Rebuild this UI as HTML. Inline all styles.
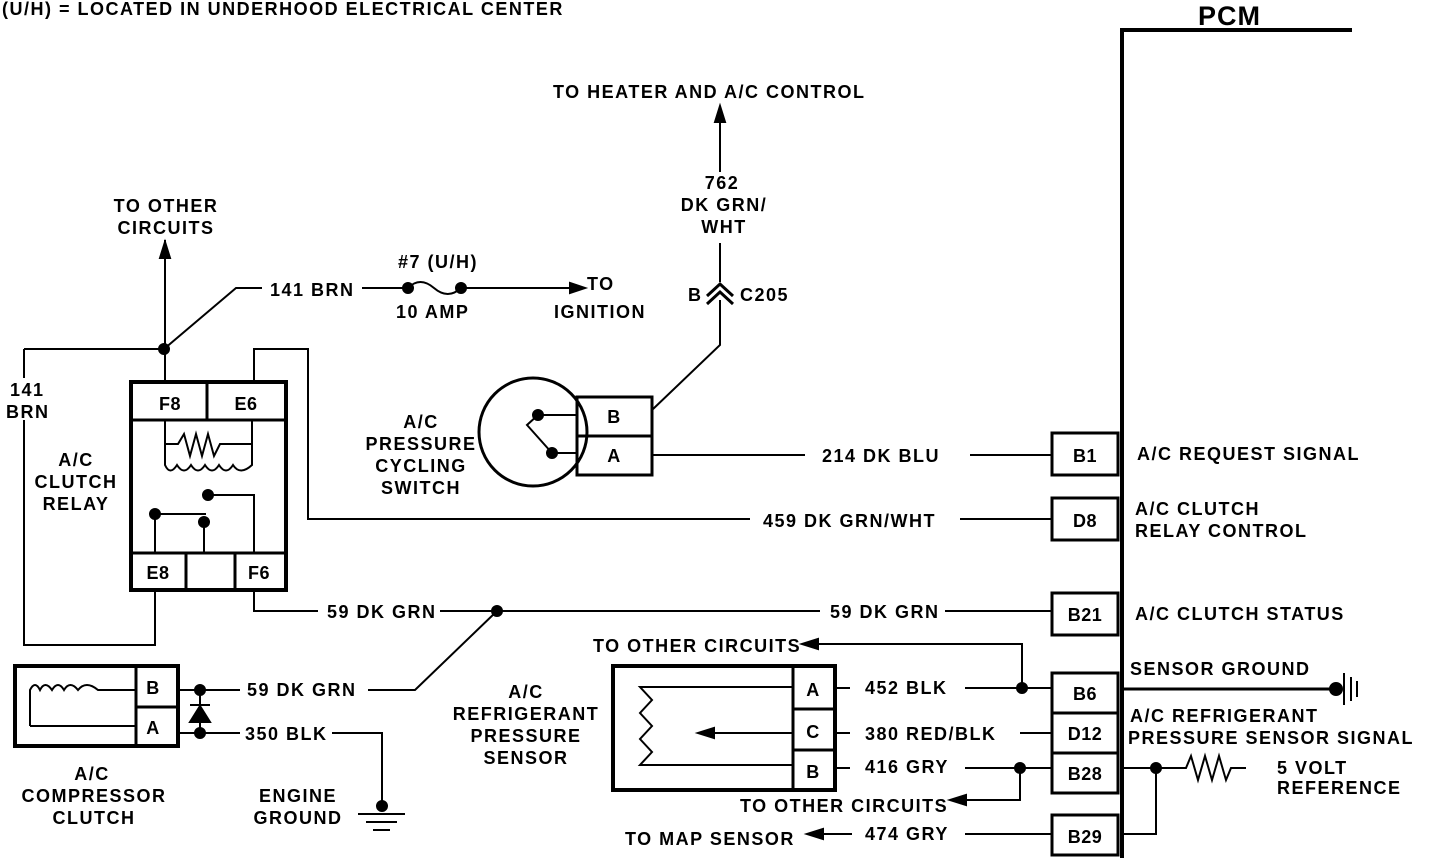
<!DOCTYPE html>
<html><head><meta charset="utf-8"><style>
html,body{margin:0;padding:0;background:#fff;}
svg{display:block}
text{font-family:"Liberation Sans",sans-serif;font-weight:bold;font-size:18px;fill:#000;letter-spacing:1.5px}
text.b{letter-spacing:0.5px}
</style></head><body>
<svg width="1440" height="858" viewBox="0 0 1440 858" xmlns="http://www.w3.org/2000/svg" stroke="#000" fill="none" stroke-width="2">
<g stroke="none">
<text x="2" y="15">(U/H)  =  LOCATED IN UNDERHOOD ELECTRICAL CENTER</text>
<text x="1198" y="25" style="font-size:27px;letter-spacing:1px">PCM</text>
<text x="553" y="98">TO HEATER AND A/C CONTROL</text>
<text x="722" y="189" text-anchor="middle">762</text>
<text x="724" y="211" text-anchor="middle">DK GRN/</text>
<text x="724" y="233" text-anchor="middle">WHT</text>
<text x="688" y="301">B</text>
<text x="740" y="301">C205</text>
<text x="166" y="212" text-anchor="middle">TO OTHER</text>
<text x="166" y="234" text-anchor="middle">CIRCUITS</text>
<text x="270" y="296">141 BRN</text>
<text x="398" y="268">#7 (U/H)</text>
<text x="396" y="318">10 AMP</text>
<text x="587" y="290">TO</text>
<text x="554" y="318">IGNITION</text>
<text x="10" y="396">141</text>
<text x="6" y="418">BRN</text>
<text x="76" y="466" text-anchor="middle">A/C</text>
<text x="76" y="488" text-anchor="middle">CLUTCH</text>
<text x="76" y="510" text-anchor="middle">RELAY</text>
<text x="421" y="428" text-anchor="middle">A/C</text>
<text x="421" y="450" text-anchor="middle">PRESSURE</text>
<text x="421" y="472" text-anchor="middle">CYCLING</text>
<text x="421" y="494" text-anchor="middle">SWITCH</text>
<text x="822" y="462">214 DK BLU</text>
<text x="763" y="527">459 DK GRN/WHT</text>
<text x="327" y="618">59 DK GRN</text>
<text x="830" y="618">59 DK GRN</text>
<text x="247" y="696">59 DK GRN</text>
<text x="245" y="740">350 BLK</text>
<text x="92" y="780" text-anchor="middle">A/C</text>
<text x="94" y="802" text-anchor="middle">COMPRESSOR</text>
<text x="94" y="824" text-anchor="middle">CLUTCH</text>
<text x="298" y="802" text-anchor="middle">ENGINE</text>
<text x="298" y="824" text-anchor="middle">GROUND</text>
<text x="526" y="698" text-anchor="middle">A/C</text>
<text x="526" y="720" text-anchor="middle">REFRIGERANT</text>
<text x="526" y="742" text-anchor="middle">PRESSURE</text>
<text x="526" y="764" text-anchor="middle">SENSOR</text>
<text x="593" y="652">TO OTHER CIRCUITS</text>
<text x="865" y="694">452 BLK</text>
<text x="865" y="740">380 RED/BLK</text>
<text x="865" y="773">416 GRY</text>
<text x="740" y="812">TO OTHER CIRCUITS</text>
<text x="625" y="845">TO MAP SENSOR</text>
<text x="865" y="840">474 GRY</text>
<text x="1137" y="460">A/C REQUEST SIGNAL</text>
<text x="1135" y="515">A/C CLUTCH</text>
<text x="1135" y="537">RELAY CONTROL</text>
<text x="1135" y="620">A/C CLUTCH STATUS</text>
<text x="1130" y="675">SENSOR GROUND</text>
<text x="1130" y="722">A/C REFRIGERANT</text>
<text x="1128" y="744">PRESSURE SENSOR SIGNAL</text>
<text x="1277" y="774">5 VOLT</text>
<text x="1277" y="794">REFERENCE</text>
<text class="b" x="1085" y="462" text-anchor="middle">B1</text>
<text class="b" x="1085" y="527" text-anchor="middle">D8</text>
<text class="b" x="1085" y="621" text-anchor="middle">B21</text>
<text class="b" x="1085" y="700" text-anchor="middle">B6</text>
<text class="b" x="1085" y="740" text-anchor="middle">D12</text>
<text class="b" x="1085" y="780" text-anchor="middle">B28</text>
<text class="b" x="1085" y="843" text-anchor="middle">B29</text>
<text class="b" x="170" y="410" text-anchor="middle">F8</text>
<text class="b" x="246" y="410" text-anchor="middle">E6</text>
<text class="b" x="158" y="579" text-anchor="middle">E8</text>
<text class="b" x="259" y="579" text-anchor="middle">F6</text>
<text class="b" x="614" y="423" text-anchor="middle">B</text>
<text class="b" x="614" y="462" text-anchor="middle">A</text>
<text class="b" x="153" y="694" text-anchor="middle">B</text>
<text class="b" x="153" y="734" text-anchor="middle">A</text>
<text class="b" x="813" y="696" text-anchor="middle">A</text>
<text class="b" x="813" y="738" text-anchor="middle">C</text>
<text class="b" x="813" y="778" text-anchor="middle">B</text>
</g>
<!-- PCM -->
<path d="M1122 858 V30 H1352" stroke-width="4"/>
<g stroke-width="3">
<rect x="1052" y="433" width="66" height="42"/>
<rect x="1052" y="498" width="66" height="42"/>
<rect x="1052" y="593" width="66" height="42"/>
<rect x="1052" y="673" width="66" height="40"/>
<rect x="1052" y="713" width="66" height="40"/>
<rect x="1052" y="753" width="66" height="40"/>
<rect x="1052" y="815" width="66" height="40"/>
</g>
<!-- heater arrow & C205 -->
<path d="M720 172 V112"/><path d="M715 122 L720 106 L725 122 Z" fill="#000"/>
<path d="M720 243 V282"/>
<path d="M707 296 L720 284 L733 296 M707 304 L720 292 L733 304" stroke-width="3"/>
<path d="M720 300 V345 L652 410"/>
<!-- relay -->
<rect x="131" y="382" width="155" height="208" stroke-width="4"/>
<path d="M131 420 H286 M131 553 H286 M207 382 V420 M186 553 V590 M235 553 V590" stroke-width="3"/>
<path d="M165 420 V444 H178 L184 434 L190 456 L196 434 L202 456 L208 434 L214 456 L220 444 H252 V420 M165 444 V465 Q170 476 177 465 Q184 476 191 465 Q198 476 205 465 Q212 476 219 465 Q226 476 233 465 Q240 476 252 465 V444"/>
<circle cx="208" cy="495" r="5" fill="#000"/><path d="M208 495 H254 V553"/>
<circle cx="155" cy="514" r="5" fill="#000"/><path d="M155 514 H206 M155 514 V553"/>
<circle cx="204" cy="522" r="5" fill="#000"/><path d="M204 522 V553"/>
<!-- relay wiring -->
<path d="M165 382 V240"/><path d="M160 258 L165 242 L170 258 Z" fill="#000"/>
<circle cx="164" cy="349" r="5" fill="#000"/>
<path d="M164 349 L236 288 H262 M24 349 H164 M24 349 V378 M24 420 V645 H155 V590"/>
<path d="M254 382 V349 H308 V519 H750 M960 519 H1052"/>
<path d="M254 590 V611 H318 M440 611 H820 M945 611 H1052"/>
<circle cx="497" cy="611" r="5" fill="#000"/><path d="M497 611 L415 690 H368"/>
<!-- fuse -->
<path d="M362 288 H407 M462 288 H578"/>
<circle cx="408" cy="288" r="5" fill="#000"/><circle cx="461" cy="288" r="5" fill="#000"/>
<path d="M408 288 Q420 276 434 288 Q448 300 461 288"/>
<path d="M570 283 L585 288 L570 293 Z" fill="#000"/>
<!-- switch -->
<circle cx="533" cy="432" r="54" stroke-width="3"/>
<rect x="577" y="397" width="75" height="78" stroke-width="3"/>
<path d="M577 436 H652" stroke-width="3"/>
<circle cx="538" cy="415" r="5" fill="#000"/><circle cx="552" cy="453" r="5" fill="#000"/>
<path d="M538 415 H577 M552 453 H577 M538 415 L527 425 L552 453"/>
<path d="M652 455 H805 M970 455 H1052"/>
<!-- compressor clutch -->
<rect x="15" y="666" width="163" height="80" stroke-width="4"/>
<path d="M136 666 V746 M136 707 H178" stroke-width="3"/>
<path d="M30 726 V690 Q35 680 40 690 Q45 680 52 690 Q58 680 64 690 Q70 680 78 690 Q86 680 98 690 H136 M30 726 H136"/>
<circle cx="200" cy="690" r="5" fill="#000"/><circle cx="200" cy="733" r="5" fill="#000"/>
<path d="M178 690 H240 M178 733 H240 M200 690 V733 M190 705 H210 M190 722 L200 706 L210 722 Z" fill="#000"/>
<path d="M332 733 H382 V808"/>
<circle cx="382" cy="806" r="5" fill="#000"/>
<path d="M358 814 H405 M366 822 H397 M373 830 H390"/>
<!-- sensor -->
<rect x="613" y="666" width="222" height="124" stroke-width="4"/>
<path d="M793 666 V790 M793 709 H835 M793 750 H835" stroke-width="3"/>
<path d="M793 687 H640 L652 700 L640 713 L652 726 L640 739 L652 752 L640 765 H793"/>
<path d="M793 733 H706"/><path d="M714 728 L698 733 L714 738 Z" fill="#000"/>
<path d="M835 688 H850 M835 733 H850 M835 768 H850"/>
<path d="M965 688 H1052 M1022 688 V644 H810"/><circle cx="1022" cy="688" r="5" fill="#000"/>
<path d="M818 639 L802 644 L818 649 Z" fill="#000"/>
<path d="M1020 733 H1052"/>
<path d="M965 768 H1052 M1020 768 V800 H958"/><circle cx="1020" cy="768" r="5" fill="#000"/>
<path d="M966 795 L950 800 L966 805 Z" fill="#000"/>
<path d="M965 834 H1052 M852 834 H815"/><path d="M823 829 L807 834 L823 839 Z" fill="#000"/>
<!-- right side -->
<path d="M1122 689 H1338" stroke-width="3"/><circle cx="1336" cy="689" r="6" fill="#000"/>
<path d="M1344 673 V705 M1351 677 V701 M1357 681 V697"/>
<path d="M1122 768 H1186 L1191 756 L1198 780 L1205 756 L1212 780 L1219 756 L1226 780 L1231 768 H1246"/>
<circle cx="1156" cy="768" r="5" fill="#000"/><path d="M1156 768 V834 H1122"/>
</svg>
</body></html>
